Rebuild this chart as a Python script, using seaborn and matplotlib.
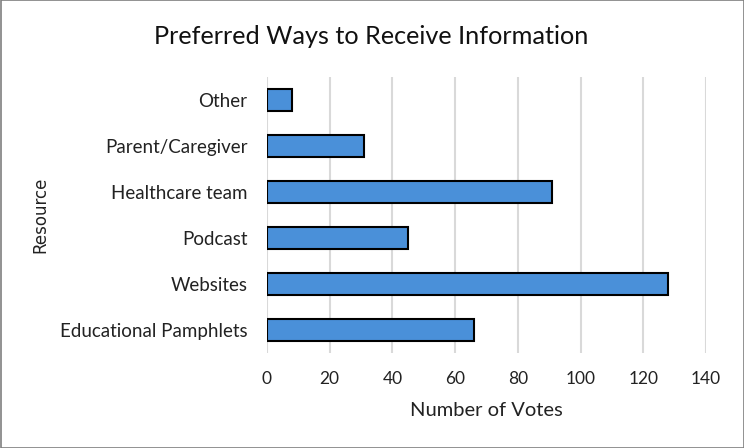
import matplotlib
matplotlib.use("Agg")
import matplotlib.pyplot as plt
import seaborn as sns
import pandas as pd
from matplotlib.patches import Rectangle

categories = ["Other", "Parent/Caregiver", "Healthcare team", "Podcast", "Websites", "Educational Pamphlets"]
votes = [8, 31, 91, 45, 128, 66]
xticks = [0, 20, 40, 60, 80, 100, 120, 140]

sns.set_theme(style="white")
plt.rcParams['font.family'] = ['Lato', 'DejaVu Sans']

df = pd.DataFrame({"Resource": categories, "Votes": votes})

fig = plt.figure(figsize=(7.44, 4.48), dpi=100)
ax = fig.add_axes([267/744, 1-353/448, (706-267)/744, (353-77)/448])

sns.barplot(data=df, y="Resource", x="Votes", order=categories, orient="h",
            color="#4a90d9", saturation=1, edgecolor="black", linewidth=1.5,
            width=0.46, ax=ax, zorder=3)

ax.set_xlim(0, 140)
ax.set_ylim(5.5, -0.5)
ax.set_xticks(xticks)
ax.set_xticklabels([str(t) for t in xticks], fontsize=12.5, color="#222222")
ax.tick_params(axis="y", labelsize=13.5, labelcolor="#222222", length=0, pad=14)
ax.tick_params(axis="x", length=0, pad=13)
ax.xaxis.grid(True, color="#d9d9d9", linewidth=1.5, zorder=0)
ax.set_axisbelow(True)
for s in ax.spines.values():
    s.set_visible(False)

ax.set_xlabel("Number of Votes", fontsize=14.5, color="#222222", labelpad=11)
ax.set_ylabel("")
fig.text(40/744, 1-215/448, "Resource", rotation=90, ha="center", va="center",
         fontsize=12, color="#222222", family=["DejaVu Sans"])
fig.text(371/744, 1-36/448, "Preferred Ways to Receive Information", ha="center", va="center",
         fontsize=18.2, color="#111111")

fig.patches.append(Rectangle((0.5/744, 0.5/448), 1-1/744, 1-1/448, transform=fig.transFigure,
                             fill=False, edgecolor="#7f7f7f", linewidth=1.2))

fig.savefig("out.png", dpi=100)
